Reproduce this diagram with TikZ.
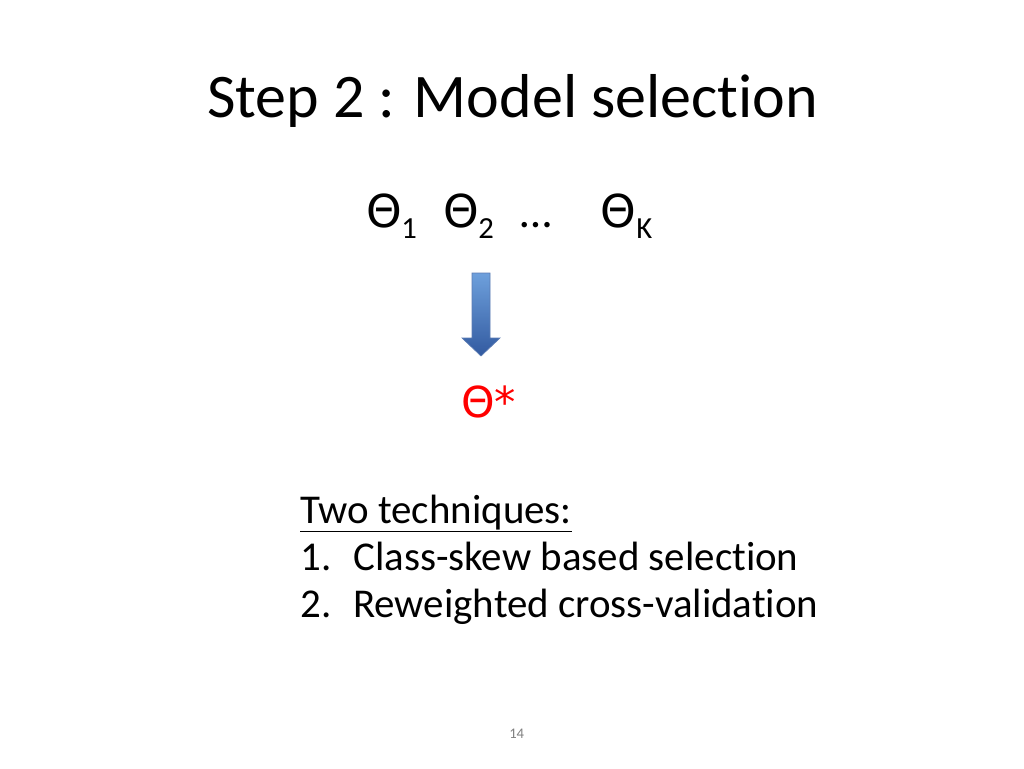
\documentclass[tikz,border=0pt]{standalone}
\usepackage{fontspec}
\setmainfont{Carlito}[Ligatures=NoCommon]
\newfontfamily\dv{DejaVu Sans}
\usetikzlibrary{shadings}
\definecolor{atop}{RGB}{110,160,220}
\definecolor{abot}{RGB}{50,90,160}
\begin{document}
\begin{tikzpicture}[x=0.75pt,y=-0.75pt,
  txt/.style={inner sep=0pt,anchor=base west},
  th/.style={txt,font=\dv\fontsize{34}{40}\selectfont},
  sub/.style={txt,font=\fontsize{23}{28}\selectfont}]
\useasboundingbox[fill=white] (0,0) rectangle (1024,768);
\node[txt,font=\fontsize{46.5}{56}\selectfont] (title) at (207,117) {Step 2 : Model selection};
\node[th] (t1) at (366,227) {Θ};
\node[sub] (s1) at (401,238) {1};
\node[th] (t2) at (443,227) {Θ};
\node[sub] (s2) at (478,238) {2};
\node[txt,font=\fontsize{34}{40}\selectfont] (dots) at (520,227) {…};
\node[th] (tk) at (600,227) {Θ};
\node[sub] (sk) at (636,238) {K};
\shade[top color=atop, bottom color=abot, draw=abot!80, line width=0.5pt]
  (472,273) -- (490,273) -- (490,338) -- (500,338) -- (481,356) -- (462,338) -- (472,338) -- cycle;
\node[txt,font=\dv\fontsize{32}{38}\selectfont,text=red] (star) at (461,417) {Θ*};
\node[txt,font=\fontsize{30.7}{40}\selectfont] (l0) at (300,523) {\underline{Two techniques:}};
\node[txt,font=\fontsize{30.7}{40}\selectfont] (n1) at (300,570) {1.};
\node[txt,font=\fontsize{30.7}{40}\selectfont] (l1) at (353,570) {Class-skew based selection};
\node[txt,font=\fontsize{30.7}{40}\selectfont] (n2) at (300,617) {2.};
\node[txt,font=\fontsize{30.7}{40}\selectfont] (l2) at (353,617) {Reweighted cross-validation};
\node[txt,font=\fontsize{11}{13}\selectfont,text=gray] (pg) at (509,738) {14};
\end{tikzpicture}
\end{document}
